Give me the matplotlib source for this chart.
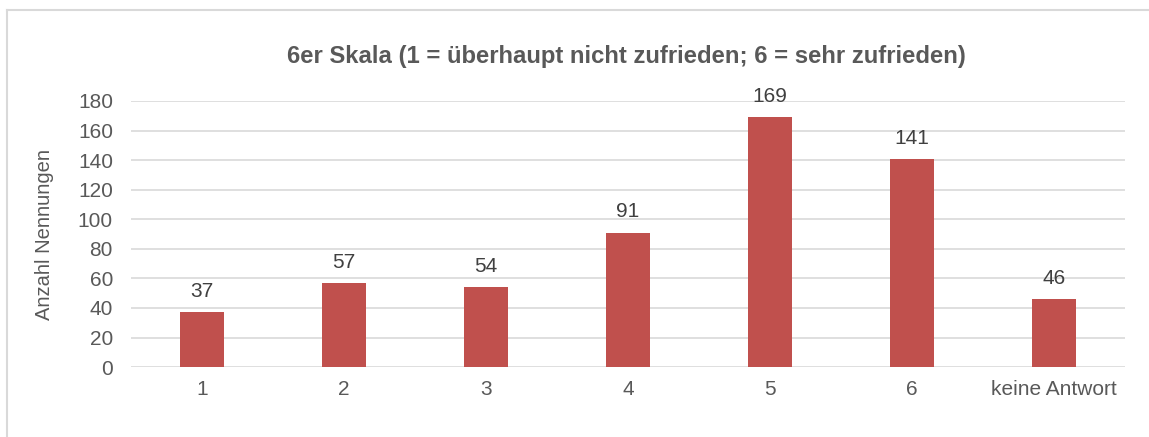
import matplotlib.pyplot as plt
from matplotlib.lines import Line2D

plt.rcParams['font.family'] = ['Liberation Sans', 'DejaVu Sans']

# Antworten auf der 6er Skala
kategorien = ['1', '2', '3', '4', '5', '6', 'keine Antwort']
nennungen = [37, 57, 54, 91, 169, 141, 46]
y_ticks = [0, 20, 40, 60, 80, 100, 120, 140, 160, 180]

fig = plt.figure(figsize=(11.49, 4.37), dpi=100)
ax = fig.add_axes([0.114, 0.160, 0.865, 0.609])

# Rahmen um das Diagramm (oben und links sichtbar)
fig.lines.append(Line2D([0.0057, 1.0], [0.976, 0.976], transform=fig.transFigure,
                        color='#D9D9D9', linewidth=1.5))
fig.lines.append(Line2D([0.0057, 0.0057], [0.0, 0.976], transform=fig.transFigure,
                        color='#D9D9D9', linewidth=1.5))

x = range(len(kategorien))
bars = ax.bar(x, nennungen, width=0.31, color='#C0504D', zorder=3)

for b, v in zip(bars, nennungen):
    ax.text(b.get_x() + b.get_width() / 2, v + 7.5, str(v), ha='center', va='bottom',
            fontsize=15, color='#404040')

ax.set_xlim(-0.5, len(kategorien) - 0.5)
ax.set_ylim(0, 180)
ax.set_yticks(y_ticks)
ax.set_xticks(list(x))
ax.set_xticklabels(kategorien)
ax.grid(axis='y', color='#D9D9D9', linewidth=1.2, zorder=0)
ax.tick_params(axis='both', length=0, labelsize=15, colors='#595959')
ax.tick_params(axis='y', pad=13)
ax.tick_params(axis='x', pad=9)
for s in ax.spines.values():
    s.set_visible(False)

ax.set_ylabel('Anzahl Nennungen', fontsize=14.5, color='#595959', labelpad=17)
fig.text(0.545, 0.87, '6er Skala (1 = überhaupt nicht zufrieden; 6 = sehr zufrieden)',
         ha='center', va='center', fontsize=17.2, fontweight='bold', color='#595959')

fig.savefig('out.png', dpi=100)
